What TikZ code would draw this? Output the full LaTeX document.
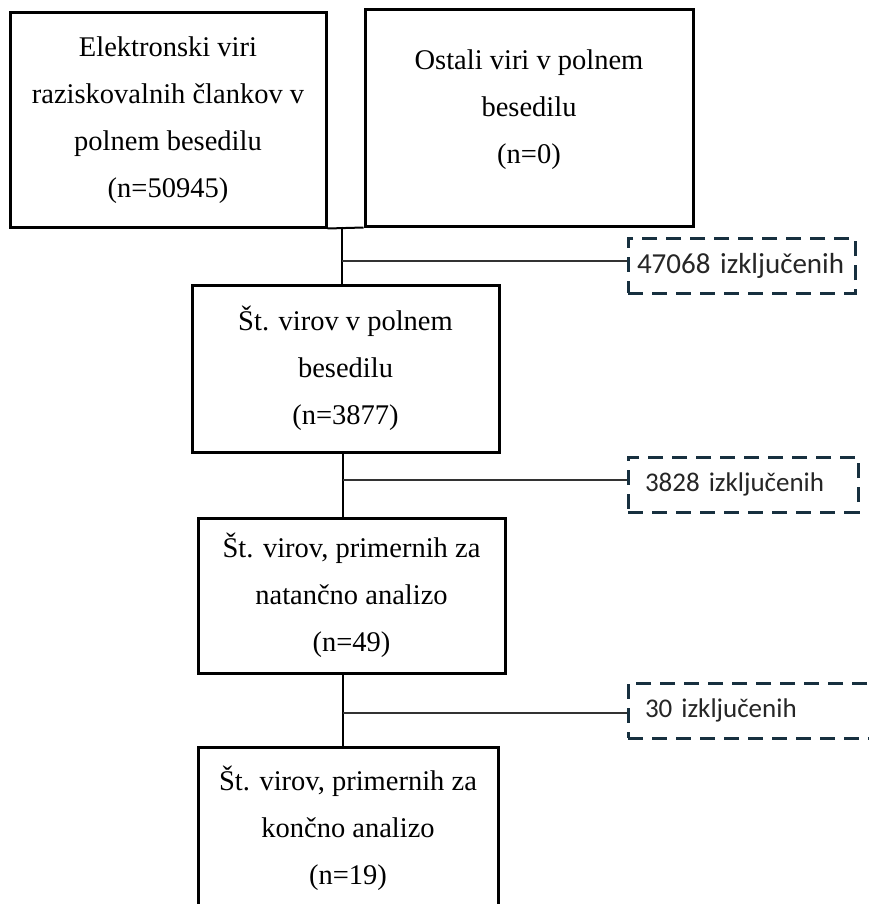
\documentclass[tikz,border=0pt]{standalone}
\usepackage{fontspec}
\setmainfont{Liberation Serif}
\newfontfamily\calib{Carlito}
\definecolor{exc}{HTML}{17303F}
\begin{document}
\begin{tikzpicture}[x=1pt,y=-1pt,
 box/.style={draw,line width=3pt,align=center,inner sep=0pt,font=\fontsize{28.5}{47}\selectfont},
 btext/.style={align=center,inner sep=0pt,font=\fontsize{28.5}{47}\selectfont},
 exbox/.style={draw=exc,line width=3pt,dash pattern=on 15pt off 9pt,minimum height=55pt,
   inner xsep=17pt,inner ysep=0pt,align=left,font=\calib\fontsize{27}{32}\selectfont,text=black!85},
 conn/.style={line width=2pt},
 branch/.style={line width=1.6pt,draw=black!80}]
\clip (0,0) rectangle (869,904);
\fill[white] (0,0) rectangle (869,904);

\node[box,minimum width=316pt,minimum height=214pt] (b1) at (168,120)
  {Elektronski viri\\raziskovalnih člankov v\\polnem besedilu\\(n=50945)};
\node[box,minimum width=328pt,minimum height=216pt] (b2) at (529,118) {};
\node[btext] (b2t) at (529,110) {Ostali viri v polnem\\besedilu\\(n=0)};

\node[box,minimum width=307pt,minimum height=167pt] (b3) at (345.5,368.5)
  {Št. virov v polnem\\besedilu\\(n=3877)};
\node[box,minimum width=307pt,minimum height=155pt] (b4) at (351.5,595.5)
  {Št. virov, primernih za\\natančno analizo\\(n=49)};
\node[box,minimum width=300pt,minimum height=162pt] (b5) at (348,828)
  {Št. virov, primernih za\\končno analizo\\(n=19)};

\node[exbox,inner xsep=9pt,text width=209pt,font=\calib\fontsize{29}{32}\selectfont] (ex1) at (741.5,265.5) {47068 izključenih};
\node[exbox,text width=196pt] (ex2) at (743,484.5) {3828 izključenih};
\node[exbox,text width=226pt] (ex3) at (758,710.5) {30 izključenih};

\draw[conn] (b1.south east) -- (b2.south west);
\coordinate (t1) at (342,226.5);
\coordinate (t2) at (343,0);
\draw[conn] (t1) -- (t1 |- b3.north);
\draw[conn] (t2 |- b3.south) -- (t2 |- b4.north);
\draw[conn] (t2 |- b4.south) -- (t2 |- b5.north);

\coordinate (k1) at (342,261);
\coordinate (k2) at (343,480);
\coordinate (k3) at (343,713);
\draw[branch] (k1) -- (k1 -| ex1.west);
\draw[branch] (k2) -- (k2 -| ex2.west);
\draw[branch] (k3) -- (k3 -| ex3.west);
\end{tikzpicture}
\end{document}
